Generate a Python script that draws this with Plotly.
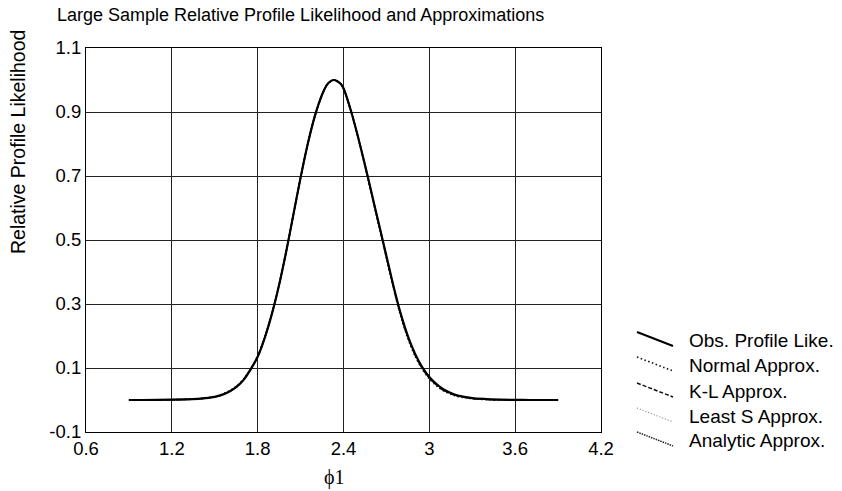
import plotly.graph_objects as go

# phi1 grid and relative profile likelihood values
phi1 = [0.90, 1.00, 1.20, 1.30, 1.40, 1.50, 1.55, 1.60, 1.65, 1.70,
        1.75, 1.80, 1.85, 1.90, 1.95, 2.00, 2.05, 2.10, 2.15, 2.20,
        2.25, 2.28, 2.30, 2.33, 2.35, 2.38, 2.40, 2.45, 2.50, 2.55,
        2.60, 2.65, 2.70, 2.75, 2.80, 2.85, 2.90, 2.95, 3.00, 3.05,
        3.10, 3.15, 3.20, 3.30, 3.40, 3.50, 3.60, 3.70, 3.90]

obs_like = [0.000, 0.000, 0.001, 0.002, 0.004, 0.010, 0.016, 0.026, 0.040, 0.062,
            0.095, 0.135, 0.195, 0.270, 0.360, 0.465, 0.580, 0.695, 0.800, 0.888,
            0.954, 0.982, 0.993, 1.000, 0.998, 0.988, 0.974, 0.907, 0.825, 0.735,
            0.640, 0.545, 0.450, 0.355, 0.270, 0.200, 0.145, 0.103, 0.072, 0.050,
            0.033, 0.022, 0.014, 0.006, 0.003, 0.001, 0.0005, 0.000, 0.000]

normal_approx = [0.000, 0.000, 0.001, 0.002, 0.005, 0.011, 0.018, 0.028, 0.043, 0.065,
                 0.097, 0.138, 0.197, 0.272, 0.361, 0.466, 0.580, 0.695, 0.800, 0.888,
                 0.954, 0.982, 0.993, 1.000, 0.998, 0.988, 0.973, 0.905, 0.822, 0.731,
                 0.635, 0.539, 0.443, 0.348, 0.262, 0.192, 0.137, 0.096, 0.066, 0.044,
                 0.028, 0.018, 0.011, 0.004, 0.001, 0.000, 0.000, 0.000, 0.000]

kl_approx = [0.000, 0.000, 0.001, 0.002, 0.004, 0.010, 0.016, 0.026, 0.041, 0.063,
             0.096, 0.136, 0.196, 0.271, 0.360, 0.465, 0.580, 0.695, 0.800, 0.888,
             0.954, 0.982, 0.993, 1.000, 0.998, 0.988, 0.974, 0.906, 0.824, 0.733,
             0.638, 0.542, 0.447, 0.352, 0.266, 0.196, 0.141, 0.099, 0.069, 0.047,
             0.030, 0.020, 0.012, 0.005, 0.002, 0.001, 0.000, 0.000, 0.000]

lsq_approx = [0.000, 0.000, 0.001, 0.002, 0.004, 0.010, 0.017, 0.027, 0.041, 0.063,
              0.096, 0.137, 0.196, 0.271, 0.360, 0.465, 0.580, 0.695, 0.800, 0.888,
              0.954, 0.982, 0.993, 1.000, 0.998, 0.988, 0.974, 0.906, 0.823, 0.732,
              0.637, 0.541, 0.446, 0.351, 0.265, 0.195, 0.140, 0.098, 0.068, 0.046,
              0.029, 0.019, 0.012, 0.005, 0.002, 0.001, 0.000, 0.000, 0.000]

analytic_approx = [0.000, 0.000, 0.001, 0.002, 0.004, 0.010, 0.016, 0.026, 0.040, 0.062,
                   0.095, 0.135, 0.195, 0.270, 0.360, 0.465, 0.580, 0.695, 0.800, 0.888,
                   0.954, 0.982, 0.993, 1.000, 0.998, 0.988, 0.974, 0.907, 0.824, 0.734,
                   0.639, 0.543, 0.448, 0.353, 0.268, 0.198, 0.143, 0.101, 0.070, 0.048,
                   0.031, 0.021, 0.013, 0.005, 0.002, 0.001, 0.000, 0.000, 0.000]

x_ticks = [0.6, 1.2, 1.8, 2.4, 3.0, 3.6, 4.2]
x_tick_text = ["0.6", "1.2", "1.8", "2.4", "3", "3.6", "4.2"]
y_ticks = [-0.1, 0.1, 0.3, 0.5, 0.7, 0.9, 1.1]
y_tick_text = ["-0.1", "0.1", "0.3", "0.5", "0.7", "0.9", "1.1"]

legend_names = ["Obs. Profile Like.", "Normal Approx.", "K-L Approx.",
                "Least S Approx.", "Analytic Approx."]

W, H = 842, 491
L, R, T, B = 86, 241, 48, 59
PW, PH = W - L - R, H - T - B

SANS = "Liberation Sans, Arial, Helvetica, sans-serif"


def px(xp):
    return (xp - L) / PW


def py(yp):
    return (H - B - yp) / PH


# style of each series: (colour, width, dash)
styles = [
    ("black", 2.2, "solid"),
    ("#111111", 1.6, "1.5px,2.5px"),
    ("#111111", 1.5, "4px,2px"),
    ("#8a8a8a", 1.2, "1px,2px"),
    ("#222222", 1.5, "1.5px,1px"),
]

fig = go.Figure()
series = [obs_like, normal_approx, kl_approx, lsq_approx, analytic_approx]
# approximations drawn first so the observed curve sits on top
for idx in [4, 3, 2, 1, 0]:
    col, wid, dash = styles[idx]
    fig.add_trace(go.Scatter(
        x=phi1, y=series[idx], mode="lines", name=legend_names[idx],
        line=dict(color=col, width=wid, dash=dash, shape="spline", smoothing=0.8),
        showlegend=False,
    ))

# hand-drawn legend with slanted line samples
legend_rows = [340, 365, 391, 416, 440]
for i, name in enumerate(legend_names):
    col, wid, dash = styles[i]
    yc = legend_rows[i]
    fig.add_shape(type="line", xref="paper", yref="paper",
                  x0=px(637), y0=py(yc - 8), x1=px(673), y1=py(yc + 6),
                  line=dict(color=col, width=wid if i else 2.0, dash=dash))
    fig.add_annotation(xref="paper", yref="paper", x=px(687), y=py(yc),
                       text=name, showarrow=False, xanchor="left", yanchor="middle",
                       font=dict(family=SANS, size=19, color="black"))

# title, axis titles
fig.add_annotation(xref="paper", yref="paper", x=px(300), y=py(15),
                   text="Large Sample Relative Profile Likelihood and Approximations",
                   showarrow=False, xanchor="center", yanchor="middle",
                   font=dict(family=SANS, size=18, color="black"))
fig.add_annotation(xref="paper", yref="paper", x=px(18), y=py(142),
                   text="Relative Profile Likelihood", textangle=-90,
                   showarrow=False, xanchor="center", yanchor="middle",
                   font=dict(family=SANS, size=19.5, color="black"))
fig.add_annotation(xref="paper", yref="paper", x=px(334), y=py(477),
                   text="ϕ1", showarrow=False, xanchor="center", yanchor="middle",
                   font=dict(family="Liberation Serif, Times New Roman, serif",
                             size=20, color="black"))

axis_common = dict(showgrid=True, gridcolor="#222222", gridwidth=1,
                   showline=True, linecolor="black", linewidth=1.2, mirror=True,
                   zeroline=False, ticks="",
                   tickfont=dict(family=SANS, size=18.5, color="black"))

fig.update_layout(
    width=W, height=H,
    margin=dict(l=L, r=R, t=T, b=B, autoexpand=False),
    paper_bgcolor="white", plot_bgcolor="white",
    xaxis=dict(range=[0.6, 4.2], tickvals=x_ticks, ticktext=x_tick_text, **axis_common),
    yaxis=dict(range=[-0.1, 1.1], tickvals=y_ticks, ticktext=y_tick_text, **axis_common),
)

fig.write_html("out.html")
